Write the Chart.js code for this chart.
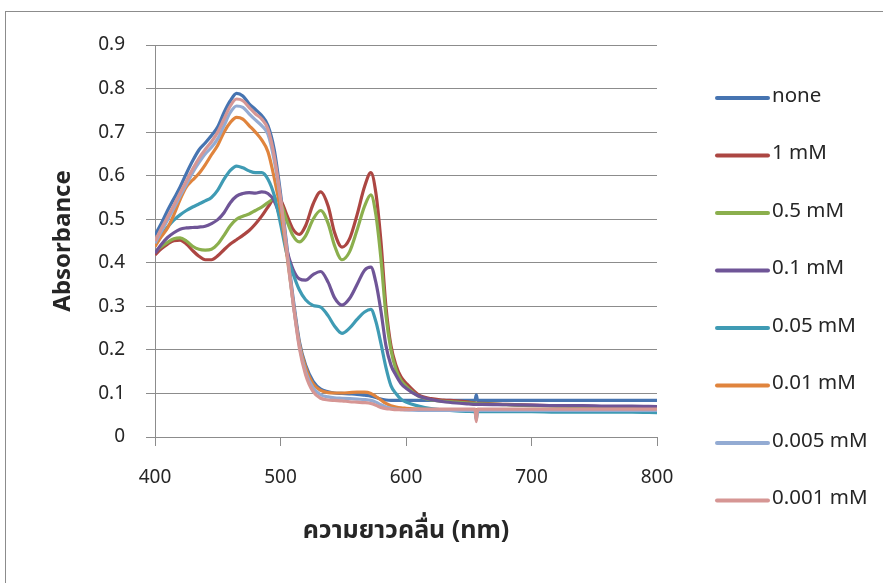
<!DOCTYPE html>
<html>
<head>
<meta charset="utf-8">
<script src="https://cdn.jsdelivr.net/npm/chart.js@4/dist/chart.umd.min.js"></script>
<style>
  html, body { margin: 0; padding: 0; background: #fff; overflow: hidden; }
  #wrap { position: relative; width: 883px; height: 583px; }
  #frame { position: absolute; left: 5px; top: 11px; width: 1000px; height: 1000px; border: 1px solid #8c8c8c; }
  #chart { position: absolute; left: 0; top: 0; }
</style>
</head>
<body>
<div id="wrap">
  <div id="frame"></div>
  <canvas id="chart" width="883" height="583"></canvas>
</div>
<script>
// wavelength grid (nm), shared by every spectrum
const wavelengths = [400, 405, 410, 415, 420, 425, 430, 435, 440, 445, 450, 455, 460, 465, 470, 475, 480, 485, 490, 495,
  500, 505, 510, 515, 520, 526, 532, 538, 543, 549, 555, 561, 567, 572, 576, 580, 584, 588, 592, 596,
  600, 610, 620, 630, 640, 650, 655, 656, 657, 660, 680, 700, 720, 740, 760, 780, 800];

const absNone = [0.464, 0.49, 0.52, 0.547, 0.574, 0.605, 0.634, 0.659, 0.675, 0.692, 0.712, 0.745, 0.772, 0.789, 0.783, 0.765, 0.752, 0.738, 0.715, 0.66,
  0.56, 0.44, 0.32, 0.22, 0.165, 0.128, 0.11, 0.104, 0.101, 0.1, 0.099, 0.098, 0.096, 0.094, 0.091, 0.087, 0.085, 0.084, 0.084, 0.084,
  0.084, 0.084, 0.084, 0.084, 0.084, 0.084, 0.084, 0.097, 0.084, 0.084, 0.084, 0.084, 0.084, 0.084, 0.084, 0.084, 0.084];

const abs1mM = [0.418, 0.432, 0.443, 0.451, 0.452, 0.443, 0.428, 0.415, 0.407, 0.407, 0.416, 0.43, 0.443, 0.453, 0.463, 0.474, 0.489, 0.507, 0.528, 0.546,
  0.543, 0.51, 0.477, 0.465, 0.485, 0.535, 0.563, 0.53, 0.47, 0.436, 0.455, 0.51, 0.575, 0.607, 0.56, 0.45, 0.3, 0.21, 0.165, 0.138,
  0.124, 0.097, 0.088, 0.085, 0.083, 0.08, 0.078, 0.078, 0.077, 0.077, 0.075, 0.073, 0.072, 0.071, 0.07, 0.07, 0.069];

const abs05mM = [0.425, 0.437, 0.447, 0.455, 0.457, 0.45, 0.438, 0.431, 0.429, 0.431, 0.443, 0.463, 0.485, 0.5, 0.507, 0.512, 0.52, 0.528, 0.538, 0.547,
  0.538, 0.497, 0.462, 0.448, 0.462, 0.5, 0.52, 0.49, 0.44, 0.407, 0.425, 0.475, 0.53, 0.556, 0.51, 0.41, 0.28, 0.2, 0.155, 0.13,
  0.117, 0.094, 0.085, 0.082, 0.08, 0.078, 0.077, 0.077, 0.076, 0.076, 0.074, 0.072, 0.071, 0.07, 0.07, 0.069, 0.068];

const abs01mM = [0.422, 0.442, 0.458, 0.469, 0.477, 0.48, 0.481, 0.482, 0.484, 0.49, 0.499, 0.515, 0.538, 0.553, 0.559, 0.561, 0.56, 0.563, 0.559, 0.542,
  0.5, 0.43, 0.385, 0.363, 0.36, 0.373, 0.38, 0.355, 0.32, 0.303, 0.318, 0.35, 0.383, 0.39, 0.355, 0.29, 0.21, 0.165, 0.142, 0.123,
  0.112, 0.094, 0.086, 0.081, 0.078, 0.076, 0.075, 0.075, 0.075, 0.075, 0.074, 0.073, 0.072, 0.072, 0.071, 0.071, 0.07];

const abs005mM = [0.44, 0.462, 0.482, 0.498, 0.51, 0.52, 0.528, 0.535, 0.542, 0.55, 0.567, 0.592, 0.612, 0.622, 0.618, 0.611, 0.607, 0.607, 0.592, 0.555,
  0.49, 0.42, 0.375, 0.338, 0.315, 0.302, 0.298, 0.278, 0.255, 0.238, 0.25, 0.27, 0.287, 0.293, 0.265, 0.215, 0.16, 0.118, 0.1, 0.087,
  0.08, 0.071, 0.065, 0.062, 0.06, 0.059, 0.058, 0.04, 0.058, 0.058, 0.058, 0.058, 0.057, 0.057, 0.057, 0.057, 0.056];

const abs001mM = [0.437, 0.46, 0.48, 0.51, 0.545, 0.574, 0.59, 0.605, 0.625, 0.648, 0.67, 0.7, 0.722, 0.734, 0.73, 0.715, 0.7, 0.682, 0.655, 0.595,
  0.52, 0.42, 0.31, 0.215, 0.16, 0.122, 0.107, 0.102, 0.101, 0.101, 0.102, 0.103, 0.103, 0.1, 0.093, 0.085, 0.077, 0.072, 0.069, 0.067,
  0.066, 0.064, 0.063, 0.063, 0.063, 0.063, 0.063, 0.063, 0.063, 0.063, 0.063, 0.063, 0.063, 0.063, 0.063, 0.063, 0.063];

const abs0005mM = [0.445, 0.472, 0.498, 0.525, 0.553, 0.58, 0.607, 0.63, 0.65, 0.665, 0.685, 0.715, 0.745, 0.76, 0.757, 0.742, 0.728, 0.715, 0.695, 0.635,
  0.545, 0.43, 0.31, 0.21, 0.15, 0.113, 0.097, 0.092, 0.09, 0.089, 0.088, 0.087, 0.086, 0.084, 0.08, 0.074, 0.069, 0.066, 0.064, 0.063,
  0.062, 0.061, 0.061, 0.061, 0.061, 0.061, 0.061, 0.045, 0.061, 0.061, 0.061, 0.061, 0.061, 0.061, 0.061, 0.061, 0.061];

const abs0001mM = [0.45, 0.478, 0.505, 0.532, 0.56, 0.588, 0.615, 0.64, 0.66, 0.678, 0.7, 0.73, 0.76, 0.776, 0.772, 0.757, 0.742, 0.73, 0.707, 0.645,
  0.55, 0.43, 0.31, 0.205, 0.143, 0.104, 0.089, 0.085, 0.084, 0.083, 0.081, 0.08, 0.079, 0.077, 0.073, 0.068, 0.065, 0.064, 0.063, 0.063,
  0.063, 0.064, 0.064, 0.064, 0.064, 0.064, 0.064, 0.035, 0.064, 0.064, 0.064, 0.064, 0.064, 0.064, 0.064, 0.064, 0.064];

const seriesNames = ["none", "1 mM", "0.5 mM", "0.1 mM", "0.05 mM", "0.01 mM", "0.005 mM", "0.001 mM"];
const seriesValues = [absNone, abs1mM, abs05mM, abs01mM, abs005mM, abs001mM, abs0005mM, abs0001mM];
const seriesColors = ["#4674b1", "#ac4642", "#8baf4d", "#6f5597", "#3f9bb4", "#e0843d", "#93abd3", "#d69694"];

const xTicks = [400, 500, 600, 700, 800];
const yTicks = [0, 0.1, 0.2, 0.3, 0.4, 0.5, 0.6, 0.7, 0.8, 0.9];

const FONT = '"Noto Sans", "Noto Sans Thai", "DejaVu Sans", sans-serif';
const GRID = "#8c8c8c";
const TEXT = "#262626";

// legend on the right: short line sample + label
const sideLegend = {
  id: 'sideLegend',
  afterDraw(chart) {
    const ctx = chart.ctx;
    ctx.save();
    ctx.font = '20.5px ' + FONT;
    ctx.textBaseline = 'middle';
    chart.data.datasets.forEach((ds, i) => {
      const y = 98 + i * 57.5;
      ctx.strokeStyle = ds.borderColor;
      ctx.lineWidth = 4;
      ctx.lineCap = 'round';
      ctx.beginPath();
      ctx.moveTo(717, y);
      ctx.lineTo(768, y);
      ctx.stroke();
      ctx.fillStyle = TEXT;
      ctx.fillText(ds.label, 772, y - 2);
    });
    ctx.restore();
  }
};

const datasets = seriesNames.map((name, i) => ({
  label: name,
  data: wavelengths.map((w, j) => ({ x: w, y: seriesValues[i][j] })),
  borderColor: seriesColors[i],
  borderWidth: 3.2,
  pointRadius: 0,
  cubicInterpolationMode: 'monotone',
  order: seriesNames.length - i
}));

new Chart(document.getElementById('chart'), {
  type: 'line',
  data: { datasets: datasets },
  plugins: [sideLegend],
  options: {
    responsive: false,
    animation: false,
    layout: { padding: { left: 5, right: 226, top: 45, bottom: 0 } },
    plugins: { legend: { display: false }, tooltip: { enabled: false } },
    scales: {
      x: {
        type: 'linear',
        min: 400,
        max: 800,
        afterBuildTicks: s => { s.ticks = xTicks.map(v => ({ value: v })); },
        afterFit: s => { s.height = 146; },
        ticks: { color: TEXT, font: { family: FONT, size: 19 }, padding: 20 },
        grid: { drawOnChartArea: false, drawTicks: true, tickLength: 9, color: GRID, lineWidth: 1 },
        border: { color: GRID, width: 1 },
        title: {
          display: true,
          text: 'ความยาวคลื่น (nm)',
          color: TEXT,
          font: { family: FONT, size: 25, weight: 'bold' },
          padding: { top: 0, bottom: 37 }
        }
      },
      y: {
        min: 0,
        max: 0.9,
        afterBuildTicks: s => { s.ticks = yTicks.map(v => ({ value: v })); },
        afterFit: s => { s.width = 150; },
        ticks: { color: TEXT, font: { family: FONT, size: 19 }, padding: 21 },
        grid: { drawTicks: true, tickLength: 9, color: GRID, lineWidth: 1 },
        border: { color: GRID, width: 1 },
        title: {
          display: true,
          text: 'Absorbance',
          color: TEXT,
          font: { family: FONT, size: 24, weight: 'bold' },
          padding: { top: 44, bottom: 0 }
        }
      }
    }
  }
});
</script>
</body>
</html>
